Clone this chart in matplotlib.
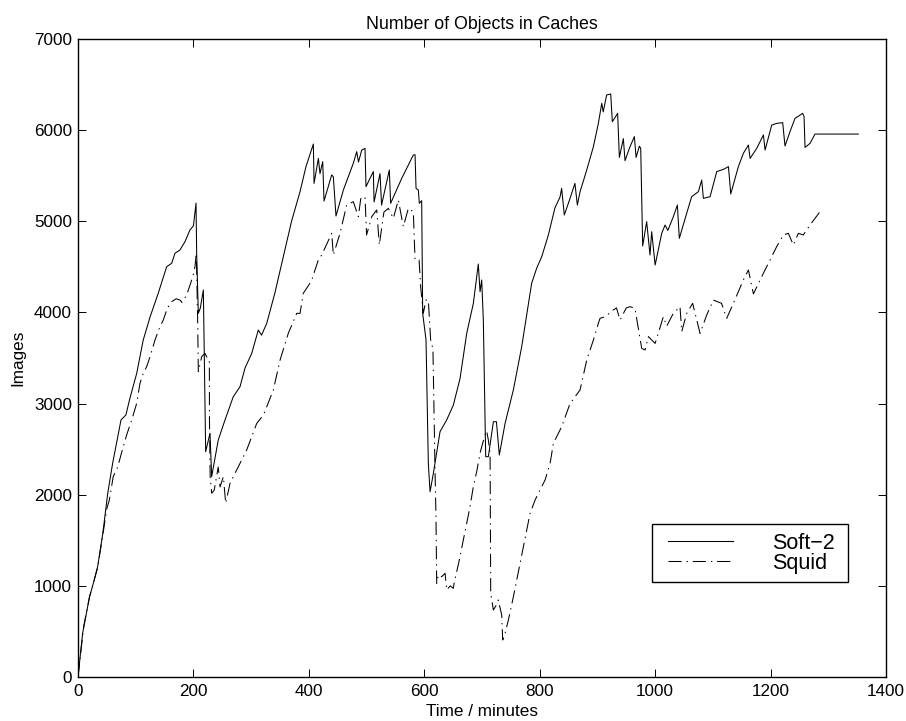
import matplotlib
matplotlib.use("Agg")
import matplotlib.pyplot as plt
from matplotlib.patches import Rectangle

plt.rcParams['font.family'] = ['Liberation Sans', 'DejaVu Sans']
plt.rcParams['lines.scale_dashes'] = False

# ---- data ----
soft_t = [0, 8, 20, 25, 34, 43, 51.5, 60, 74.5, 83, 90, 101.7, 113, 125, 139, 153.7, 162.3, 168,
          176.7, 185.4, 194, 200, 204.5, 205.6, 208.5, 212, 217.2, 221.2, 228.7, 231.6, 243, 254.7,
          269, 280.7, 289.4, 301, 312.4, 318, 327, 341, 355.7, 370, 384.7, 395, 407.8, 409, 416.5,
          419.3, 424, 426.3, 439.5, 442.4, 447, 459.8, 477, 482.9, 486, 491.6, 497.3, 499, 511.7,
          513, 523.3, 526, 539.4, 541.7, 560.9, 581, 584, 585.7, 589.7, 591.4, 595.5, 597.2, 603,
          607, 610, 615.7, 627.3, 638.8, 650.4, 662, 673.5, 685, 693.6, 696.6, 699.5, 702.3, 706.4,
          711, 719.7, 725, 730, 740, 754.3, 768.8, 786, 794.7, 803.5, 815, 826.5, 835.2, 838, 842.6,
          852.5, 861, 865.2, 869.9, 881.5, 893, 901.6, 907.5, 910, 916, 923, 925.8, 935, 938, 944.9,
          947.8, 955.3, 964, 967, 972.7, 975, 978.4, 985.3, 991.1, 994, 1000, 1011.4, 1017.2, 1022,
          1031.5, 1038.5, 1041.9, 1054.6, 1063.3, 1074.9, 1080.7, 1083.6, 1095.2, 1106.7, 1118.3,
          1127, 1131, 1144.2, 1152.9, 1161.6, 1164.5, 1176, 1187.6, 1190.5, 1202, 1210.6, 1221,
          1225, 1233.7, 1242.4, 1251, 1255.6, 1258, 1259.7, 1268.4, 1277, 1352]
soft_n = [0, 480, 881, 991, 1210, 1576, 2015, 2344, 2820, 2875, 3060, 3331, 3697, 3953, 4210, 4502,
          4539, 4649, 4685, 4777, 4905, 4950, 5200, 4649, 3990, 4050, 4246, 2472, 2675, 2198, 2600,
          2820, 3075, 3185, 3390, 3551, 3807, 3750, 3880, 4210, 4612, 5000, 5325, 5600, 5848, 5416,
          5690, 5523, 5654, 5222, 5508, 5489, 5058, 5343, 5636, 5764, 5650, 5782, 5800, 5380, 5545,
          5212, 5523, 5178, 5563, 5197, 5471, 5727, 5730, 5362, 5343, 5197, 5226, 3990, 3700, 2344,
          2033, 2233, 2692, 2820, 2984, 3277, 3770, 4099, 4531, 4227, 4356, 3917, 2417, 2417, 2801,
          2801, 2436, 2783, 3149, 3624, 4319, 4484, 4612, 4850, 5150, 5266, 5362, 5069, 5250, 5416,
          5178, 5325, 5563, 5819, 6074, 6294, 6200, 6386, 6397, 6092, 6184, 5701, 5907, 5665, 5800,
          5929, 5701, 5825, 5800, 4729, 4996, 4630, 4886, 4520, 4868, 4959, 4900, 5050, 5178, 4813,
          5087, 5270, 5325, 5453, 5252, 5270, 5545, 5570, 5600, 5300, 5600, 5746, 5837, 5690, 5800,
          5947, 5782, 6056, 6074, 6082, 5826, 5984, 6130, 6166, 6184, 6150, 5811, 5855, 5957, 5957]

squid_t = [0, 10, 20, 25, 34, 43, 50, 54.3, 61, 68.8, 75, 84, 93, 101.6, 107.4, 113, 119, 124.8,
           133.4, 142, 147.8, 155, 162.3, 170, 176.7, 180, 188.3, 197, 200, 202.7, 205, 207.3, 208.5,
           214.3, 220, 224, 227.6, 227.8, 229, 231.6, 236, 243, 246.1, 251.9, 255.9, 263.4, 275,
           292.3, 309.7, 321.3, 338.5, 350.1, 364.4, 379, 384.7, 390.4, 401.9, 405, 416.4, 422.3,
           439.6, 442.4, 454, 465.5, 477, 485.7, 490, 497.3, 500, 509, 517.6, 522.1, 530, 537.7,
           546.4, 555, 563.7, 572.4, 581, 584, 591, 593.7, 598.3, 603, 607, 611, 615, 618.6, 620.3,
           621.5, 624.3, 630, 636, 638.9, 645, 650.4, 652, 656.2, 662, 667.6, 673.5, 679.2, 685,
           690.8, 696.6, 699.5, 705, 708, 711, 714, 715.1, 719.7, 724, 728.3, 734.1, 735.9, 740,
           745.7, 754.4, 760.2, 766, 771.7, 777.5, 783.3, 792, 800.6, 809.3, 818, 823.7, 838, 852.5,
           869.9, 881.5, 893, 901.6, 904.5, 913.2, 927.6, 933, 939.2, 950, 956.5, 965, 970.9, 976.7,
           982.5, 988.3, 1000, 1014.2, 1020, 1031.5, 1043.1, 1046, 1054.7, 1065, 1077.8, 1089.4,
           1100.8, 1115, 1124, 1135.5, 1152.9, 1161.6, 1170.3, 1181.8, 1196.2, 1210.6, 1222.2,
           1230.8, 1239.5, 1248.1, 1256.8, 1268.4, 1285.7]
squid_n = [0, 560, 881, 991, 1200, 1560, 1850, 1942, 2198, 2304, 2450, 2650, 2820, 3000, 3222, 3331,
           3405, 3514, 3697, 3844, 3917, 4050, 4118, 4150, 4136, 4110, 4191, 4356, 4420, 4502, 4650,
           3917, 3350, 3515, 3551, 3500, 3478, 2820, 2198, 2016, 2050, 2304, 2085, 2198, 1906, 2125,
           2271, 2491, 2783, 2875, 3149, 3478, 3771, 3990, 3990, 4210, 4320, 4356, 4575, 4630, 4868,
           4630, 4868, 5178, 5215, 5051, 5250, 5270, 4850, 5051, 5124, 4740, 5100, 5142, 5032, 5234,
           4941, 5142, 5105, 4575, 4575, 4282, 3990, 4136, 4136, 3697, 3600, 2271, 1740, 1028, 1119,
           1100, 1138, 955, 1000, 973, 1046, 1156, 1320, 1503, 1686, 1869, 2088, 2253, 2454, 2527,
           2650, 2700, 2600, 2454, 918, 735, 780, 845, 680, 406, 480, 625, 881, 1064, 1247, 1430,
           1613, 1795, 1942, 2052, 2162, 2345, 2564, 2746, 3000, 3149, 3478, 3697, 3880, 3935, 3953,
           4027, 4050, 3917, 4050, 4063, 4045, 3825, 3606, 3588, 3734, 3660, 3953, 3850, 3990, 4063,
           3789, 3990, 4100, 3770, 3972, 4136, 4100, 3935, 4100, 4356, 4466, 4203, 4356, 4539, 4722,
           4850, 4868, 4740, 4868, 4850, 4960, 5105]

series_labels = ['Soft\u22122', 'Squid']
title_text = 'Number of Objects in Caches'
xlabel_text = 'Time / minutes'
ylabel_text = 'Images'
x_ticks = [0, 200, 400, 600, 800, 1000, 1200, 1400]
y_ticks = [0, 1000, 2000, 3000, 4000, 5000, 6000, 7000]

# ---- figure ----
W, H = 906, 721
AX_L, AX_B, AX_W, AX_H = 78, 44, 808, 638
fig = plt.figure(figsize=(W / 100, H / 100), dpi=100)
ax = fig.add_axes([AX_L / W, AX_B / H, AX_W / W, AX_H / H])

ax.plot(soft_t, soft_n, color='black', lw=0.75, linestyle='-', label=series_labels[0])
ax.plot(squid_t, squid_n, color='black', lw=0.75,
        linestyle=(0, (9.5, 3.5, 1.0, 3.5)), label=series_labels[1])

ax.set_xlim(0, 1400)
ax.set_ylim(0, 7000)
ax.set_xticks(x_ticks)
ax.set_yticks(y_ticks)
ax.set_xticklabels([str(v) for v in x_ticks])
ax.set_yticklabels([str(v) for v in y_ticks])

ax.tick_params(which='both', direction='in', length=5.8, width=0.7,
               top=True, right=True, labelsize=12.3, colors='black')
ax.tick_params(axis='x', pad=5)
ax.tick_params(axis='y', pad=4.3)
for s in ax.spines.values():
    s.set_linewidth(1.0)
    s.set_color('black')

ax.set_title(title_text, fontsize=12.8, pad=7)
ax.set_xlabel(xlabel_text, fontsize=12.3, labelpad=3.5)
ax.set_ylabel(ylabel_text, fontsize=12.3, labelpad=6)


def to_axes(px, py):
    """figure-pixel (from top-left) -> axes fraction"""
    return (px - AX_L) / AX_W, ((H - py) - AX_B) / AX_H


# legend frame (pixel box 652..848 x 524..582)
fx0, fy1 = to_axes(652, 524)
fx1, fy0 = to_axes(848, 582)
ax.add_patch(Rectangle((fx0, fy0), fx1 - fx0, fy1 - fy0, transform=ax.transAxes,
                       facecolor='white', edgecolor='black', lw=1.0, zorder=4))

lx, ly = to_axes(668, 533)
leg = ax.legend(loc='upper left', bbox_to_anchor=(lx, ly),
                borderaxespad=0, fontsize=15.5, frameon=False,
                handlelength=3.0, handletextpad=1.85, borderpad=0, labelspacing=-0.06)
leg.set_zorder(5)

fig.savefig('out.png', dpi=100, facecolor='white')
